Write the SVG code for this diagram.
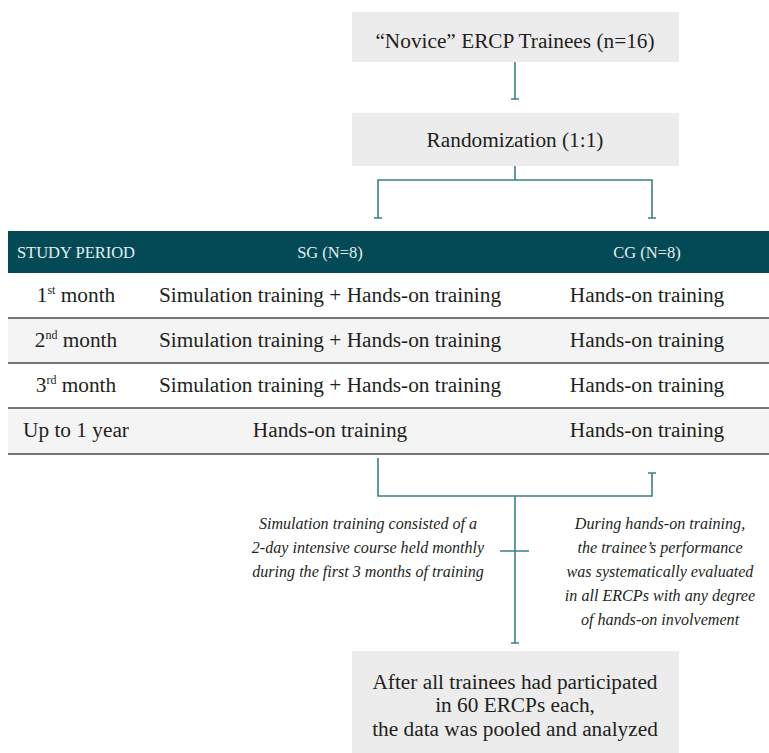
<svg xmlns="http://www.w3.org/2000/svg" width="769" height="753" viewBox="0 0 769 753">
<style>
.box{fill:#ececec}
.t{font-family:"Liberation Serif",serif;font-size:21.3px;fill:#231f20;text-anchor:middle}
.h{font-family:"Liberation Serif",serif;font-size:16.5px;fill:#e3eef0;text-anchor:middle}
.i{font-family:"Liberation Serif",serif;font-style:italic;font-size:16.1px;fill:#231f20;text-anchor:middle}
.c{stroke:#3a8087;stroke-width:1.6;fill:none}
.rl{stroke:#4a4a4a;stroke-width:1.5}
.sup{font-size:12px}
</style>
<rect width="769" height="753" fill="#ffffff"/>
<g id="connectors">
<path class="c" d="M515 62V99M511 99H519"/>
<path class="c" d="M515 166V180M378 218V180H652V218M374 218H382M648 218H656"/>
<path class="c" d="M378 458V496H652V473M648 473H656"/>
<path class="c" d="M515 496V643M511 643H519M500 551H529"/>
</g>
<g id="node-trainees">
<rect class="box" x="352" y="12" width="327" height="50"/>
<text class="t" x="515" y="48">“Novice” ERCP Trainees (n=16)</text>
</g>
<g id="node-randomization">
<rect class="box" x="352" y="113" width="327" height="53"/>
<text class="t" x="515" y="147">Randomization (1:1)</text>
</g>
<g id="node-table">
<rect x="8" y="231" width="761" height="42" fill="#034a56"/>
<text class="h" x="76" y="258">STUDY PERIOD</text>
<text class="h" x="330" y="258">SG (N=8)</text>
<text class="h" x="647" y="258">CG (N=8)</text>
<rect x="8" y="273" width="761" height="45" fill="#ffffff"/>
<rect x="8" y="318" width="761" height="45" fill="#f4f4f4"/>
<rect x="8" y="363" width="761" height="45" fill="#ffffff"/>
<rect x="8" y="408" width="761" height="46" fill="#f4f4f4"/>
<line class="rl" x1="8" y1="318" x2="769" y2="318"/>
<line class="rl" x1="8" y1="363" x2="769" y2="363"/>
<line class="rl" x1="8" y1="408" x2="769" y2="408"/>
<line class="rl" x1="8" y1="454" x2="769" y2="454"/>
<text class="t" x="76" y="302">1<tspan class="sup" dy="-8">st</tspan><tspan dy="8"> month</tspan></text>
<text class="t" x="330" y="302">Simulation training + Hands-on training</text>
<text class="t" x="647" y="302">Hands-on training</text>
<text class="t" x="76" y="347">2<tspan class="sup" dy="-8">nd</tspan><tspan dy="8"> month</tspan></text>
<text class="t" x="330" y="347">Simulation training + Hands-on training</text>
<text class="t" x="647" y="347">Hands-on training</text>
<text class="t" x="76" y="392">3<tspan class="sup" dy="-8">rd</tspan><tspan dy="8"> month</tspan></text>
<text class="t" x="330" y="392">Simulation training + Hands-on training</text>
<text class="t" x="647" y="392">Hands-on training</text>
<text class="t" x="76" y="437">Up to 1 year</text>
<text class="t" x="330" y="437">Hands-on training</text>
<text class="t" x="647" y="437">Hands-on training</text>
</g>
<g id="note-simulation">
<text class="i" x="368" y="529">Simulation training consisted of a</text>
<text class="i" x="368" y="553">2-day intensive course held monthly</text>
<text class="i" x="368" y="577">during the first 3 months of training</text>
</g>
<g id="note-handson">
<text class="i" x="660" y="529">During hands-on training,</text>
<text class="i" x="660" y="553">the trainee’s performance</text>
<text class="i" x="660" y="577">was systematically evaluated</text>
<text class="i" x="660" y="601">in all ERCPs with any degree</text>
<text class="i" x="660" y="625">of hands-on involvement</text>
</g>
<g id="node-analysis">
<rect class="box" x="352" y="651" width="327" height="102"/>
<text class="t" x="515" y="689">After all trainees had participated</text>
<text class="t" x="515" y="712">in 60 ERCPs each,</text>
<text class="t" x="515" y="736">the data was pooled and analyzed</text>
</g>
</svg>
